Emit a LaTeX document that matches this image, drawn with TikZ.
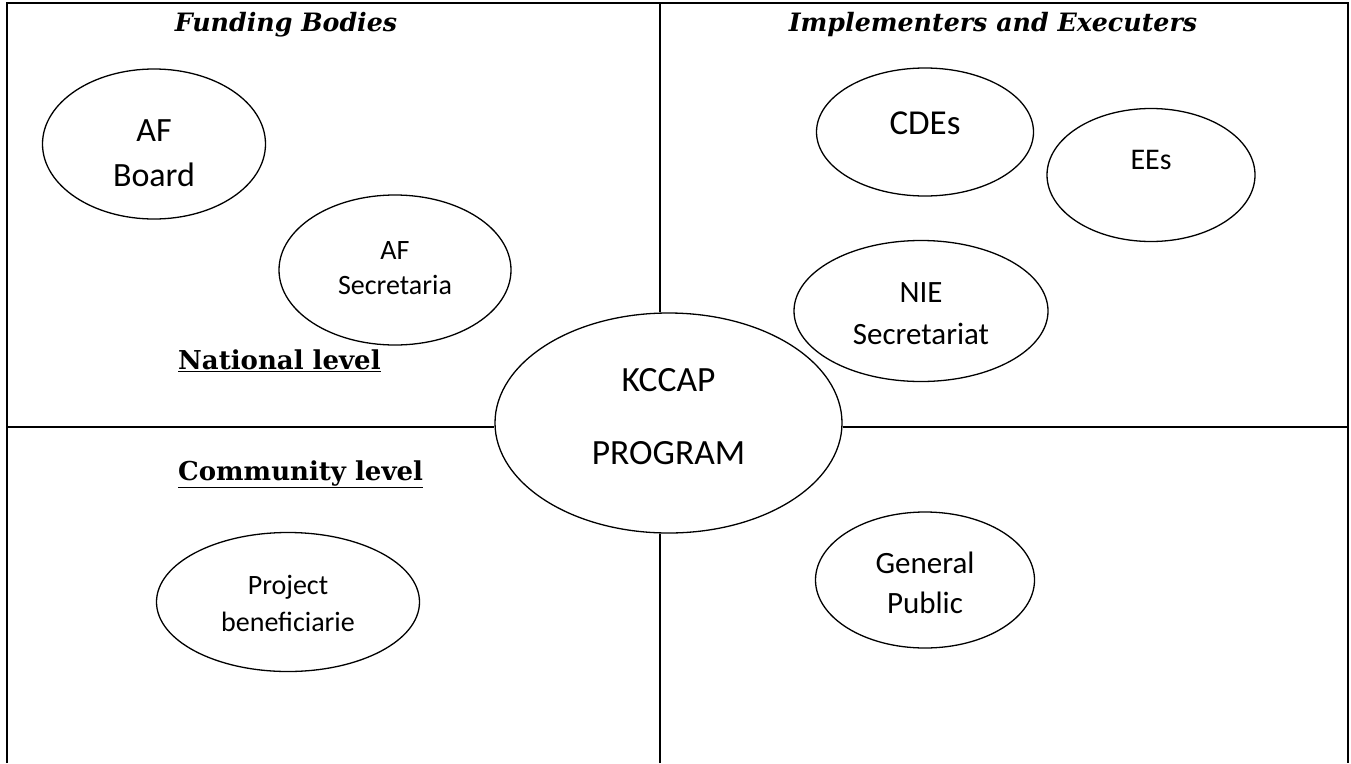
\documentclass[tikz,border=0pt]{standalone}
\usepackage{fontspec}
\setmainfont{Carlito}
\newfontfamily\headfont{DejaVu Serif}
\usetikzlibrary{shapes.geometric}
\begin{document}
\begin{tikzpicture}[x=1pt,y=-1pt,
  oval/.style={draw, ellipse, line width=1.3pt, inner sep=0pt},
  lbl/.style={align=center, inner sep=0pt},
  frame/.style={line width=2.6pt},
  divider/.style={line width=1.5pt},
  heading/.style={inner sep=0pt, font=\headfont\bfseries\itshape\fontsize{25.3}{30}\selectfont},
  level/.style={inner sep=0pt, anchor=base west, font=\headfont\bfseries\fontsize{26}{30}\selectfont}]
\useasboundingbox (0,0) rectangle (1351,763);
% frame
\coordinate (tl) at (7,3);
\coordinate (tr) at (1348,3);
\coordinate (bl) at (7,763);
\coordinate (br) at (1348,763);
\draw[frame] (bl) -- (tl) -- (tr) -- (br);
% ellipses
\node[oval, minimum width=223, minimum height=150] (afb) at (154,144) {};
\node[oval, minimum width=232, minimum height=150] (afs) at (395,270) {};
\node[oval, minimum width=217, minimum height=128] (cde) at (925,132) {};
\node[oval, minimum width=208, minimum height=133] (ees) at (1151,175) {};
\node[oval, minimum width=254, minimum height=141] (nie) at (921,311) {};
\node[oval, minimum width=347, minimum height=220] (kcc) at (668.5,423) {};
\node[oval, minimum width=263, minimum height=139] (prj) at (288,602) {};
\node[oval, minimum width=219, minimum height=136] (gen) at (925,580) {};
% dividers
\coordinate (vtop) at (660,3);
\coordinate (vbot) at (660,763);
\coordinate (hl) at (7,427);
\coordinate (hr) at (1348,427);
\draw[divider] (vtop) -- (vtop |- kcc.north);
\draw[divider] (vbot) -- (vbot |- kcc.south);
\draw[divider] (hl) -- (hl -| kcc.west);
\draw[divider] (hr) -- (hr -| kcc.east);
% labels
\node[lbl, font=\fontsize{34}{45}\selectfont] at ([yshift=-9]afb.center) {AF\\Board};
\node[lbl, font=\fontsize{28}{35}\selectfont] at ([yshift=2]afs.center) {AF\\Secretaria};
\node[lbl, font=\fontsize{35}{42}\selectfont] at ([yshift=9]cde.center) {CDEs};
\node[lbl, font=\fontsize{30}{36}\selectfont] at ([yshift=15]ees.center) {EEs};
\node[lbl, font=\fontsize{31}{42}\selectfont] at ([yshift=-3]nie.center) {NIE\\Secretariat};
\node[lbl, font=\fontsize{35.5}{73}\selectfont] at ([yshift=6]kcc.center) {KCCAP\\PROGRAM};
\node[lbl, font=\fontsize{28}{37}\selectfont] at ([yshift=-1.5]prj.center) {Project\\beneficiarie};
\node[lbl, font=\fontsize{31}{40}\selectfont] at ([yshift=-3]gen.center) {General\\Public};
% headings
\node[heading] (fb) at (286,25) {Funding Bodies};
\node[heading] (ie) at (993,25) {Implementers and Executers};
\node[level] (nl) at (178,369) {\underline{National level}};
\node[level] (cl) at (178,480) {\underline{Community level}};
\end{tikzpicture}
\end{document}
